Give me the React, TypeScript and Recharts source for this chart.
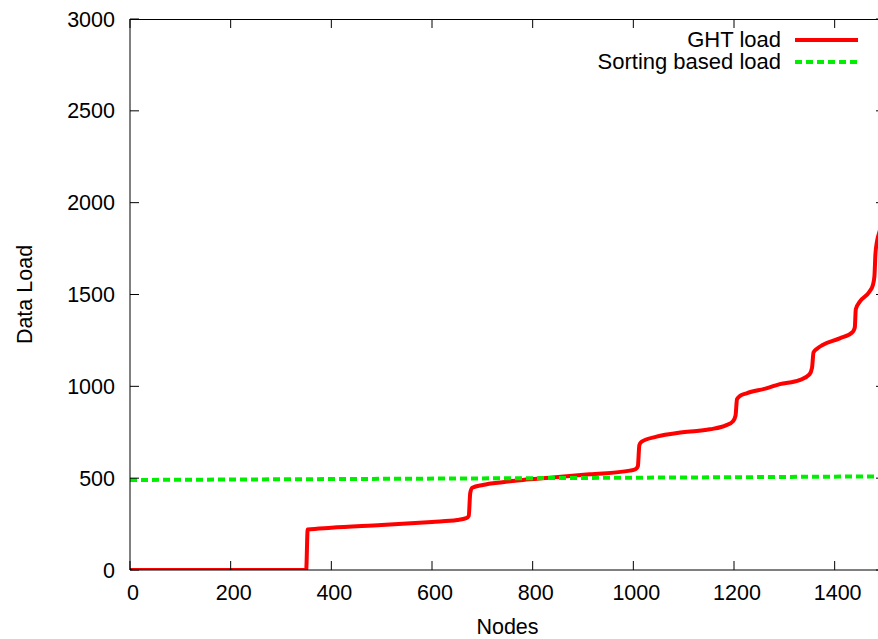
import React from "react";
import { LineChart, Line, XAxis, YAxis, Legend } from "recharts";

// node index vs. load
const ghtNodes = [
  0, 350, 353, 400, 500, 600, 650, 668, 673, 676, 680, 701, 740, 781, 834, 913, 993, 1005, 1009,
  1012, 1016, 1046, 1098, 1152, 1185, 1198, 1203, 1206, 1212, 1225, 1264, 1291, 1330, 1350, 1355,
  1358, 1365, 1376, 1410, 1436, 1440, 1442, 1450, 1469, 1476, 1479, 1481, 1484, 1490, 1500,
];
const ghtLoad = [
  0, 0, 220, 230, 245, 262, 272, 282, 295, 420, 448, 463, 478, 490, 502, 521, 541, 550, 565,
  680, 698, 726, 750, 766, 789, 810, 840, 930, 948, 962, 989, 1012, 1034, 1065, 1100,
  1185, 1205, 1225, 1261, 1297, 1320, 1420, 1461, 1515, 1552, 1600, 1720, 1787, 1850, 1950,
];

const sortNodes = [0, 400, 800, 1200, 1500];
const sortLoad = [490, 495, 500, 505, 510];

const xTicks = [0, 200, 400, 600, 800, 1000, 1200, 1400];
const yTicks = [0, 500, 1000, 1500, 2000, 2500, 3000];
const X_MAX = 1500;
const Y_MAX = 3000;

const ghtData = ghtNodes.map((n, i) => ({ n, v: ghtLoad[i] }));
const sortData = sortNodes.map((n, i) => ({ n, v: sortLoad[i] }));

const FONT = "'Liberation Sans', Arial, Helvetica, sans-serif";
const FS = 21.5;
const KEY_FS = 22;
const TICK = 9;

// chart box and margins; the plot size follows from them
const W = 900;
const H = 639;
const M = { top: 19, right: 15, bottom: 0, left: 0 };
const Y_AXIS_W = 130;
const X_AXIS_H = 69;
const PLOT_W = W - M.left - M.right - Y_AXIS_W;
const PLOT_H = H - M.top - M.bottom - X_AXIS_H;

// bottom ticks also draw their mirrored mark on the top edge
const BottomTick = ({ x, y, payload }: any) => (
  <g>
    <line x1={x} x2={x} y1={y} y2={y - TICK} stroke="#000" strokeWidth={1} />
    <line x1={x} x2={x} y1={y - PLOT_H} y2={y - PLOT_H + TICK} stroke="#000" strokeWidth={1} />
    <text x={x + 3} y={y + 30} textAnchor="middle" fontFamily={FONT} fontSize={FS} fill="#000">
      {payload.value}
    </text>
  </g>
);

// left ticks also draw the right-edge mark
const LeftTick = ({ x, y, payload }: any) => (
  <g>
    <line x1={x} x2={x + TICK} y1={y} y2={y} stroke="#000" strokeWidth={1} />
    <line x1={x + PLOT_W - TICK} x2={x + PLOT_W} y1={y} y2={y} stroke="#000" strokeWidth={1} />
    <text x={x - 15} y={y + 7.5} textAnchor="end" fontFamily={FONT} fontSize={FS} fill="#000">
      {payload.value}
    </text>
  </g>
);

const KeyBox = ({ payload }: any) => (
  <div style={{ display: "flex", flexDirection: "column", alignItems: "flex-end" }}>
    {(payload || []).map((p: any) => (
      <div
        key={p.value}
        style={{ display: "flex", alignItems: "center", height: 22, fontFamily: FONT, fontSize: KEY_FS, color: "#000" }}
      >
        <span style={{ lineHeight: "22px" }}>{p.value}</span>
        <svg width={63} height={22} style={{ marginLeft: 14 }}>
          <line
            x1={0}
            x2={63}
            y1={11}
            y2={11}
            stroke={p.color}
            strokeWidth={4}
            strokeDasharray={p.payload?.strokeDasharray}
          />
        </svg>
      </div>
    ))}
  </div>
);

export default function App() {
  return (
    <div style={{ position: "fixed", left: 0, top: 0, width: 878, height: 639, overflow: "hidden", background: "#fff" }}>
      <LineChart width={W} height={H} margin={M}>
        <XAxis
          dataKey="n"
          type="number"
          domain={[0, X_MAX]}
          ticks={xTicks}
          interval={0}
          height={X_AXIS_H}
          tickSize={0}
          tickMargin={0}
          tickLine={false}
          axisLine={{ stroke: "#000", strokeWidth: 1 }}
          tick={<BottomTick />}
          allowDataOverflow
          label={(props: any) => {
            const vb = props.viewBox;
            return (
              <text x={vb.x + vb.width / 2} y={634} textAnchor="middle" fontFamily={FONT} fontSize={FS} fill="#000">
                Nodes
              </text>
            );
          }}
        />
        <YAxis
          type="number"
          domain={[0, Y_MAX]}
          allowDataOverflow
          ticks={yTicks}
          interval={0}
          width={Y_AXIS_W}
          tickSize={0}
          tickMargin={0}
          tickLine={false}
          axisLine={{ stroke: "#000", strokeWidth: 1 }}
          tick={<LeftTick />}
          label={(props: any) => {
            const vb = props.viewBox;
            const cy = vb.y + vb.height / 2;
            return (
              <text
                x={32}
                y={cy}
                transform={`rotate(-90, 32, ${cy})`}
                textAnchor="middle"
                fontFamily={FONT}
                fontSize={FS}
                fill="#000"
              >
                Data Load
              </text>
            );
          }}
        />
        <Legend
          layout="horizontal"
          verticalAlign="middle"
          align="center"
          content={<KeyBox />}
          wrapperStyle={{ top: 29, left: 0, width: 858, height: 44 }}
        />
        <Line
          data={ghtData}
          dataKey="v"
          name="GHT load"
          type="monotone"
          stroke="#ff0000"
          strokeWidth={4}
          dot={false}
          isAnimationActive={false}
        />
        <Line
          data={sortData}
          dataKey="v"
          name="Sorting based load"
          type="linear"
          stroke="#00ee00"
          strokeWidth={4}
          strokeDasharray="7 4"
          dot={false}
          isAnimationActive={false}
        />
      </LineChart>
      {/* top and right edges of the plot frame */}
      <div
        style={{
          position: "absolute",
          left: M.left + Y_AXIS_W,
          top: M.top - 0.5,
          width: PLOT_W,
          height: PLOT_H,
          borderTop: "1px solid #000",
          borderRight: "1px solid #000",
          boxSizing: "border-box",
          pointerEvents: "none",
        }}
      />
    </div>
  );
}
